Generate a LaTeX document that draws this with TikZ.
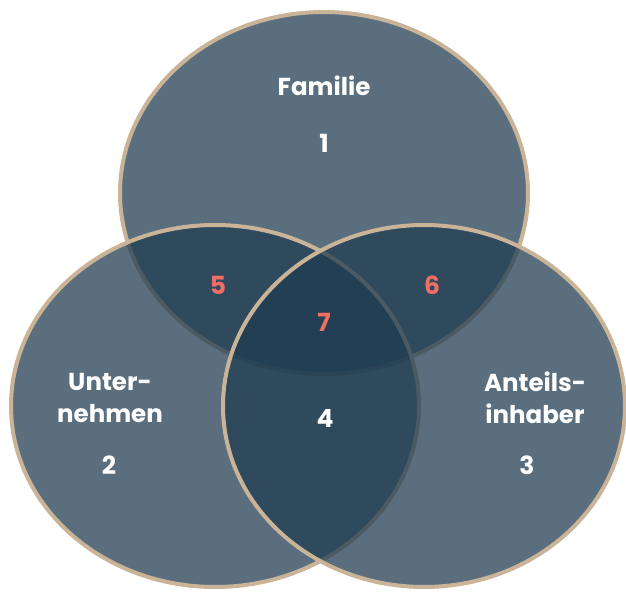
\documentclass[tikz,border=0pt]{standalone}
\usepackage{fontspec}
\setmainfont{Poppins}
\begin{document}
\begin{tikzpicture}[x=1pt,y=-1pt,
  setfill/.style={fill=setblue, fill opacity=0.74, draw=settan, draw opacity=1, line width=4pt},
  label/.style={text=white, font=\bfseries\fontsize{24.5}{32}\selectfont, align=center},
  num/.style={text=white, font=\bfseries\fontsize{25}{25}\selectfont},
  rednum/.style={text=setred, font=\bfseries\fontsize{25}{25}\selectfont}]
  \definecolor{setblue}{RGB}{32,60,81}
  \definecolor{settan}{RGB}{202,180,152}
  \definecolor{setred}{RGB}{240,110,100}
  \useasboundingbox (0,0) rectangle (626,593);
  % the three sets, drawn top, left, right
  \path[setfill] (324,193) ellipse [x radius=204, y radius=181];
  \path[setfill] (215,406) ellipse [x radius=204, y radius=181];
  \path[setfill] (424,406) ellipse [x radius=201, y radius=181];
  % region labels
  \node[label] (fam) at (324,86) {Familie};
  \node[num] (n1) at (324,143) {1};
  \node[label] (unt) at (110,398) {Unter-\\nehmen};
  \node[num] (n2) at (109,465) {2};
  \node[label] (ant) at (535,398) {Anteils-\\inhaber};
  \node[num] (n3) at (527,465) {3};
  \node[num] (n4) at (325,418) {4};
  \node[rednum] (n5) at (218,285) {5};
  \node[rednum] (n6) at (432,285) {6};
  \node[rednum] (n7) at (324,322) {7};
\end{tikzpicture}
\end{document}
